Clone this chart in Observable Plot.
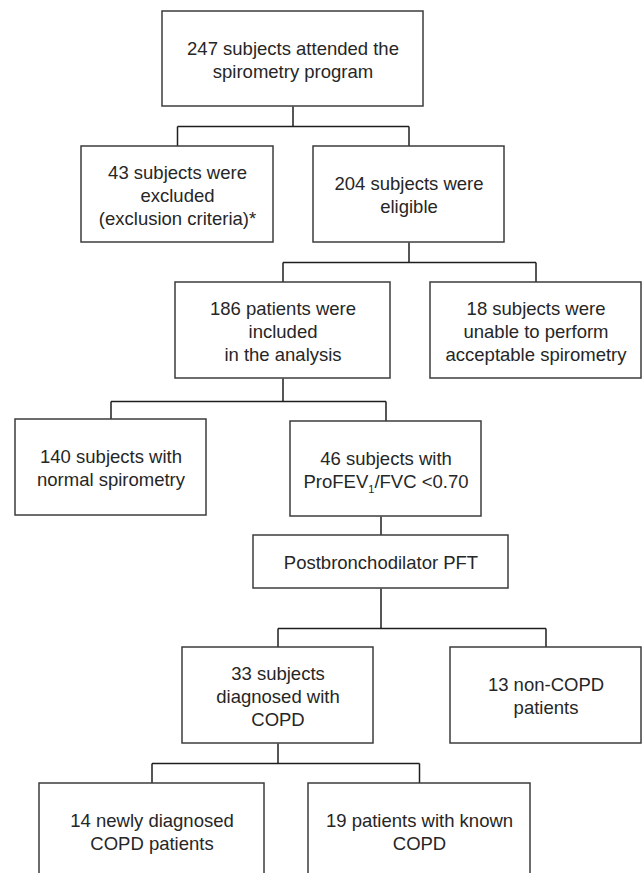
<!DOCTYPE html>
<html>
<head>
<meta charset="utf-8">
<script src="https://cdn.jsdelivr.net/npm/d3@7"></script>
<script src="https://cdn.jsdelivr.net/npm/@observablehq/plot@0.6"></script>
<style>
  html, body { margin: 0; padding: 0; background: #fff; }
  #chart { width: 642px; height: 873px; overflow: hidden; }
</style>
</head>
<body>
<div id="chart"></div>
<script>
// ---- Flowchart content (data) ----
const nodeIds = ["A", "B", "C", "D", "E", "F", "G", "H", "I", "J", "K", "L"];
const nodeLabels = [
  ["247 subjects attended the", "spirometry program"],
  ["43 subjects were", "excluded", "(exclusion criteria)*"],
  ["204 subjects were", "eligible"],
  ["186 patients were", "included", "in the analysis"],
  ["18 subjects were", "unable to perform", "acceptable spirometry"],
  ["140 subjects with", "normal spirometry"],
  ["46 subjects with", "ProFEV1/FVC <0.70"],
  ["Postbronchodilator PFT"],
  ["33 subjects", "diagnosed with", "COPD"],
  ["13 non-COPD", "patients"],
  ["14 newly diagnosed", "COPD patients"],
  ["19 patients with known", "COPD"]
];
// tree structure: parent -> children
const edgeParents  = ["A", "C", "D", "G", "H", "I"];
const edgeChildren = [["B", "C"], ["D", "E"], ["F", "G"], ["H"], ["I", "J"], ["K", "L"]];

// ---- Layout (positions in chart units, kept apart from the data) ----
const boxLeft   = [162,  81, 313, 175, 430,  15, 290, 253, 182, 450,  39, 308];
const boxRight  = [423, 273, 504, 390, 641, 206, 481, 508, 373, 641, 264, 530];
const boxTop    = [ 11, 146, 146, 282, 282, 419, 421, 535, 647, 647, 783, 783];
const boxBottom = [106, 242, 242, 378, 378, 515, 516, 588, 743, 743, 879, 879];
const elbowY    = [126, 262, 401, null, 628, 763];

// ---- Build tables ----
const nodes = nodeIds.map((id, i) => ({
  id,
  text: nodeLabels[i].join("\n"),
  x1: boxLeft[i], x2: boxRight[i], y1: boxTop[i], y2: boxBottom[i],
  cx: (boxLeft[i] + boxRight[i]) / 2,
  cy: (boxTop[i] + boxBottom[i]) / 2
}));
const byId = Object.fromEntries(nodes.map(n => [n.id, n]));

const segments = [];
edgeParents.forEach((pid, i) => {
  const p = byId[pid];
  const kids = edgeChildren[i].map(c => byId[c]);
  if (kids.length === 1) {
    const k = kids[0];
    segments.push({x1: k.cx, y1: p.y2, x2: k.cx, y2: k.y1});
  } else {
    const my = elbowY[i];
    segments.push({x1: p.cx, y1: p.y2, x2: p.cx, y2: my});
    const xs = kids.map(k => k.cx);
    segments.push({x1: d3.min(xs), y1: my, x2: d3.max(xs), y2: my});
    kids.forEach(k => segments.push({x1: k.cx, y1: my, x2: k.cx, y2: k.y1}));
  }
});

const chart = Plot.plot({
  width: 642,
  height: 873,
  margin: 0,
  x: {domain: [0, 642], range: [0, 642], axis: null},
  y: {domain: [0, 873], range: [0, 873], axis: null},
  style: {background: "#fff", fontFamily: "'Liberation Sans', Arial, sans-serif"},
  marks: [
    Plot.link(segments, {x1: "x1", y1: "y1", x2: "x2", y2: "y2", stroke: "#1e1e1e", strokeWidth: 1.5}),
    Plot.rect(nodes, {x1: "x1", x2: "x2", y1: "y1", y2: "y2", fill: "#fff", stroke: "#3c3c3c", strokeWidth: 1.5}),
    Plot.text(nodes, {x: "cx", y: "cy", text: "text", fontSize: 18.5, lineHeight: 1.23, fill: "#262626", textAnchor: "middle"})
  ]
});
document.getElementById("chart").appendChild(chart);

// subscript "1" in ProFEV1
chart.querySelectorAll("tspan").forEach(ts => {
  if (ts.textContent === "ProFEV1/FVC <0.70") {
    ts.textContent = "";
    const ns = "http://www.w3.org/2000/svg";
    const a = document.createElementNS(ns, "tspan"); a.textContent = "ProFEV";
    const s = document.createElementNS(ns, "tspan"); s.textContent = "1";
    s.setAttribute("font-size", "11"); s.setAttribute("dy", "5");
    const b = document.createElementNS(ns, "tspan"); b.textContent = "/FVC <0.70";
    b.setAttribute("dy", "-5");
    ts.append(a, s, b);
  }
});
</script>
</body>
</html>
